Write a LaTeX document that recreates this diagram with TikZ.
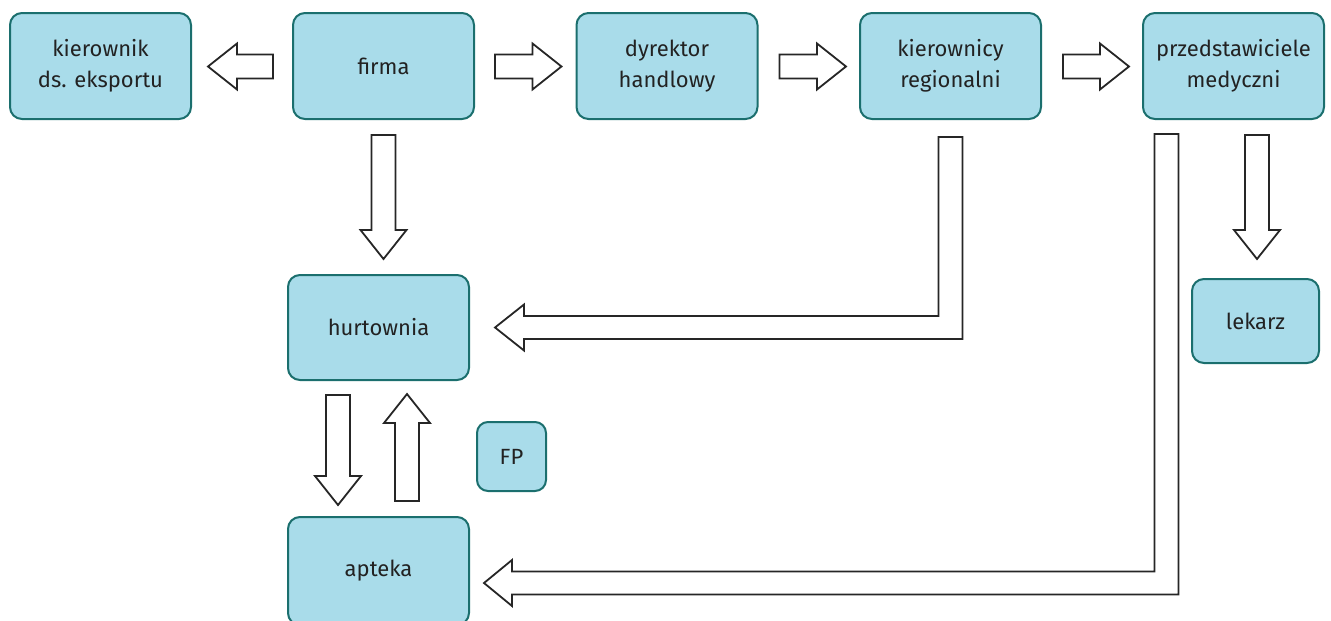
\documentclass[tikz,border=0pt]{standalone}
\usepackage{fontspec}
\setmainfont{Fira Sans}
\usetikzlibrary{calc}
\definecolor{BoxFill}{HTML}{A9DCEA}
\definecolor{BoxLine}{HTML}{1B6F6E}
\definecolor{Ink}{HTML}{222222}
\tikzset{
  box/.style={draw=BoxLine,fill=BoxFill,line width=2pt,rounded corners=12pt,
    align=center,text=Ink,font=\fontsize{22}{31}\selectfont,
    minimum width=181,minimum height=106},
  fatarrow/.style={draw=black!85,fill=white,line width=1.8pt,line join=miter}
}
% block arrow from tail to tip: shaft 24, head 46 wide, 29 long
\newcommand{\fatarr}[2]{%
  \draw[fatarrow] let \p1=(#1), \p2=(#2), \n1={atan2(\y2-\y1,\x2-\x1)},
    \n2={veclen(\x2-\x1,\y2-\y1)} in [shift={(\p1)},rotate=\n1]
    (0,-12) -- ({\n2-29},-12) -- ({\n2-29},-23) -- (\n2,0) -- ({\n2-29},23)
    -- ({\n2-29},12) -- (0,12) -- cycle;}
\begin{document}
\begin{tikzpicture}[x=1pt,y=-1pt]
  \useasboundingbox (0,0) rectangle (1331,621);
  \node[box] (kexp) at (100.5,66) {kierownik\\ds. eksportu};
  \node[box] (firma) at (383.5,66) {firma};
  \node[box] (dyr) at (667,66) {dyrektor\\handlowy};
  \node[box] (kreg) at (950.5,66) {kierownicy\\regionalni};
  \node[box] (przed) at (1233.5,66) {przedstawiciele\\medyczni};
  \node[box,minimum height=105] (hurt) at (378.5,327.5) {hurtownia};
  \node[box,minimum height=108] (apteka) at (378.5,571) {apteka};
  \node[box,minimum width=69,minimum height=69,rounded corners=11pt] (fp) at (511.5,456.5) {FP};
  \node[box,minimum width=127,minimum height=84] (lek) at (1255.5,321) {lekarz};
  % top row
  \fatarr{$(firma.west)+(-19,0.5)$}{$(kexp.east)+(16,0.5)$}
  \fatarr{$(firma.east)+(20,0.5)$}{$(dyr.west)+(-14,0.5)$}
  \fatarr{$(dyr.east)+(21,0.5)$}{$(kreg.west)+(-13,0.5)$}
  \fatarr{$(kreg.east)+(21,0.5)$}{$(przed.west)+(-13,0.5)$}
  % down arrows
  \fatarr{$(firma.south)+(0,15)$}{$(hurt.north)+(5,-15)$}
  \fatarr{$(przed.south)+(23.5,15)$}{$(lek.north)+(1.5,-19)$}
  \fatarr{$(hurt.south)+(-40.5,14)$}{$(apteka.north)+(-40.5,-11)$}
  \fatarr{$(apteka.north)+(28.5,-15)$}{$(hurt.south)+(28.5,13)$}
  % bent arrows
  \draw[fatarrow] let \p1=(kreg.south), \p2=(hurt.east) in
    (\x1-12pt,\y1-17pt) -- (\x1+12pt,\y1-17pt) -- (\x1+12pt,\y2-11.5pt)
    -- (\x2+54pt,\y2-11.5pt) -- (\x2+54pt,\y2-23pt) -- (\x2+25pt,\y2)
    -- (\x2+54pt,\y2+23pt) -- (\x2+54pt,\y2+11.5pt) -- (\x1-12pt,\y2+11.5pt) -- cycle;
  \draw[fatarrow] let \p1=(przed.south), \p2=(apteka.east) in
    (\x1-79pt,\y1-14pt) -- (\x1-55pt,\y1-14pt) -- (\x1-55pt,\y2-23.5pt)
    -- (\x2+42pt,\y2-23.5pt) -- (\x2+42pt,\y2-35pt) -- (\x2+14pt,\y2-12pt)
    -- (\x2+42pt,\y2+11pt) -- (\x2+42pt,\y2-0.5pt) -- (\x1-79pt,\y2-0.5pt) -- cycle;
\end{tikzpicture}
\end{document}
